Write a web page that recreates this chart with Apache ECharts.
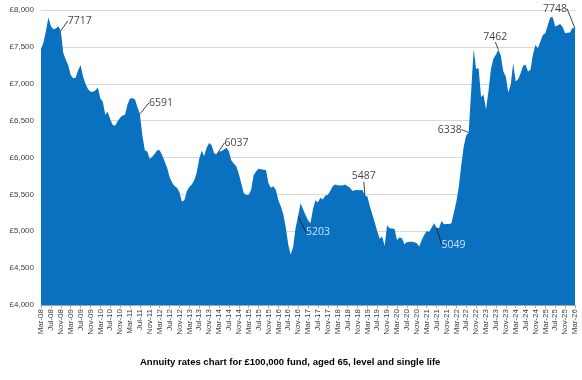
<!DOCTYPE html>
<html>
<head>
<meta charset="utf-8">
<script src="https://cdn.jsdelivr.net/npm/echarts@6/dist/echarts.min.js"></script>
<style>html,body{margin:0;padding:0;background:#fff}#c{width:582px;height:380px}</style>
</head>
<body>
<div id="c"></div>
<script>
// ---- data ----
const monthNames = ['Jan','Feb','Mar','Apr','May','Jun','Jul','Aug','Sep','Oct','Nov','Dec'];
const startYear = 2008, startMonth = 2; // Mar-08
const rates = [
 7470,7560,7720,7900,7780,7740,7750,7780,7717,7420,
 7330,7250,7120,7073,7080,7180,7254,7100,7000,6930,
 6890,6890,6910,6950,6800,6757,6580,6620,6520,6441,
 6430,6490,6540,6570,6580,6720,6800,6805,6790,6680,
 6591,6300,6100,6080,5980,6010,6050,6100,6100,6030,
 5950,5860,5740,5660,5612,5590,5530,5400,5420,5545,
 5600,5635,5690,5800,5980,6090,6020,6131,6198,6170,
 6060,6037,6080,6086,6110,6131,6080,5960,5920,5883,
 5780,5650,5520,5491,5495,5560,5760,5810,5847,5840,
 5835,5829,5650,5590,5610,5560,5420,5340,5230,5050,
 4820,4680,4790,5050,5203,5380,5300,5220,5150,5110,
 5300,5420,5390,5455,5432,5486,5490,5545,5610,5635,
 5625,5622,5622,5635,5610,5590,5545,5555,5560,5555,
 5559,5487,5470,5342,5230,5117,5000,4900,4930,4800,
 5081,5040,5036,5030,4880,4914,4905,4824,4850,4856,
 4856,4850,4838,4792,4880,4950,5005,4990,5050,5108,
 5049,5040,5140,5095,5100,5100,5108,5250,5400,5600,
 5900,6150,6300,6338,6900,7468,7200,7212,6820,6851,
 6650,6900,7200,7340,7392,7462,7380,7167,7100,6883,
 6986,7279,7031,7060,7144,7243,7257,7167,7189,7400,
 7527,7482,7572,7662,7685,7797,7901,7901,7775,7790,
 7811,7770,7685,7690,7694,7760,7748
];
const labelIdx = [8, 40, 71, 104, 131, 160, 173, 185, 216];
const yTicks = [4000, 4500, 5000, 5500, 6000, 6500, 7000, 7500, 8000];
const titleText = 'Annuity rates chart for £100,000 fund, aged 65, level and single life';

const categories = rates.map((_, i) => {
  const m = (startMonth + i) % 12;
  const y = startYear + Math.floor((startMonth + i) / 12);
  return monthNames[m] + '-' + String(y % 100).padStart(2, '0');
});

// ---- label styling (offsets from point, colours) ----
const labelOffsets = [[19,-10],[21,-11],[20,-12],[20,16],[-1,-19],[17,17],[-19,-3],[-3,-13],[-20,-20]];
const whiteLabels = [104, 160];

const chart = echarts.init(document.getElementById('c'), null, {renderer: 'canvas'});
const fmt = v => '£' + String(v).replace(/\B(?=(\d{3})+(?!\d))/g, ',');

chart.setOption({
  animation: false,
  title: {
    text: titleText, left: 135, top: 352,
    textStyle: {fontFamily: 'Liberation Sans', fontSize: 9.5, fontWeight: 'bold', color: '#000'}
  },
  grid: {left: 41, right: 7, top: 10, bottom: 75, containLabel: false},
  xAxis: {
    type: 'category', data: categories, boundaryGap: false,
    axisLine: {show: true, lineStyle: {color: '#a6a6a6', width: 1}},
    axisTick: {show: true, interval: 3, length: 3, lineStyle: {color: '#a6a6a6'}},
    axisLabel: {interval: 3, rotate: 90, margin: 4, fontFamily: 'Liberation Sans', fontSize: 8, color: '#404040'},
    splitLine: {show: false}
  },
  yAxis: {
    type: 'value', min: yTicks[0], max: yTicks[yTicks.length - 1], interval: 500,
    axisLine: {show: false}, axisTick: {show: false},
    axisLabel: {formatter: fmt, margin: 7, fontFamily: 'Liberation Sans', fontSize: 8, color: '#404040'},
    splitLine: {show: true, lineStyle: {color: '#d9d9d9', width: 1}}
  },
  series: [
    {
      type: 'line', data: rates, showSymbol: false, symbol: 'none',
      lineStyle: {width: 0, color: '#0A70C0'},
      areaStyle: {color: '#0A70C0', opacity: 1},
      z: 2
    },
    {
      type: 'scatter',
      data: labelIdx.map(i => whiteLabels.indexOf(i) >= 0
        ? {value: [i, rates[i]], label: {color: '#ffffff'}}
        : {value: [i, rates[i]]}),
      symbolSize: 1,
      itemStyle: {color: '#0A70C0'},
      z: 5,
      label: {
        show: true, position: 'inside',
        formatter: p => String(p.value[1]),
        fontFamily: 'Open Sans', fontSize: 10.5,
        color: '#111'
      },
      labelLine: {show: true, lineStyle: {color: '#111', width: 0.8}},
      labelLayout: p => {
        const o = labelOffsets[p.dataIndex];
        return {dx: o[0], dy: o[1], hideOverlap: false};
      }
    }
  ]
});
</script>
</body>
</html>
